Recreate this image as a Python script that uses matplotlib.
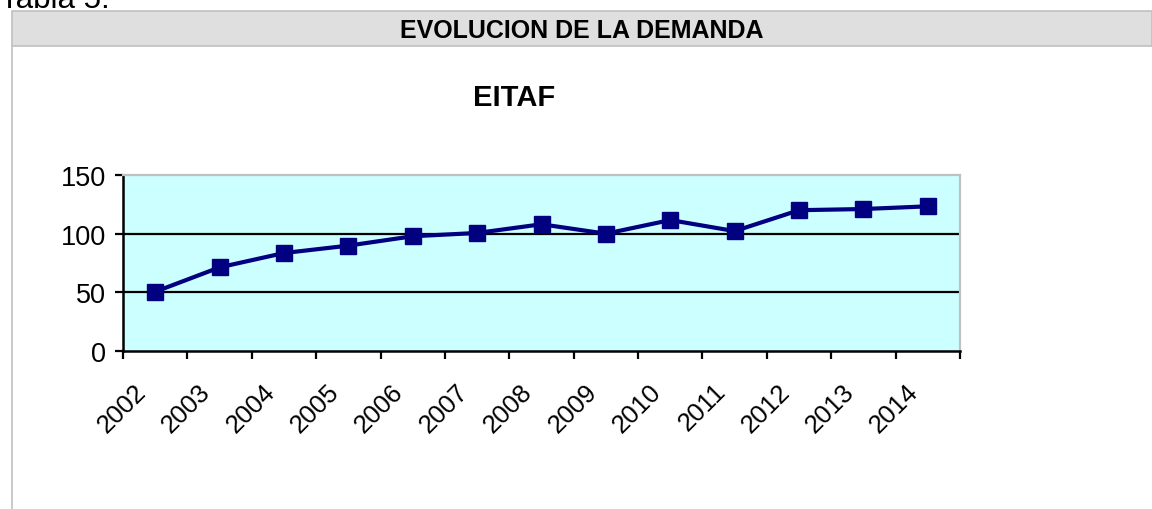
import matplotlib.pyplot as plt
import matplotlib.transforms as mtransforms
from matplotlib.patches import Rectangle
from matplotlib.lines import Line2D

years = ['2002', '2003', '2004', '2005', '2006', '2007', '2008',
         '2009', '2010', '2011', '2012', '2013', '2014']
demand = [50.5, 71.3, 83.5, 89.8, 97.8, 100.6, 108, 100, 111.6, 102.2, 120, 121, 123.3]
yticks = [0, 50, 100, 150]

W, H = 1152, 510
plt.rcParams['font.family'] = ['Liberation Sans', 'DejaVu Sans']
fig = plt.figure(figsize=(W / 100, H / 100), dpi=100)

# page decorations: caption, header band, left frame line
fig.text(0 / W, 1 - 8 / H, 'Tabla 5.', fontsize=22.5, va='baseline', ha='left')
fig.patches.append(Rectangle((12 / W, 1 - 47 / H), 1 - 12 / W, 35 / H,
                             transform=fig.transFigure, facecolor='#dfdfdf',
                             edgecolor='#c0c0c0', linewidth=1.2))
fig.lines.append(Line2D([12 / W, 12 / W], [0, 1 - 47 / H], transform=fig.transFigure,
                        color='#c0c0c0', linewidth=1.2))
fig.text(582 / W, 1 - 31 / H, 'EVOLUCION DE LA DEMANDA', fontsize=18, fontweight='bold',
         ha='center', va='center')
fig.text(514 / W, 1 - 98 / H, 'EITAF', fontsize=21, fontweight='bold',
         ha='center', va='center')

# plot area
ax = fig.add_axes([123 / W, 1 - 352 / H, (960 - 123) / W, (352 - 176) / H])
ax.set_facecolor('#ccffff')
x = list(range(len(years)))
ax.plot(x, demand, color='#000080', linewidth=3, marker='s', markersize=12,
        markerfacecolor='#000080', markeredgecolor='#000080')

ax.set_xlim(-0.5, len(years) - 0.5)
ax.set_ylim(0, 150)
ax.set_yticks(yticks)
ax.set_yticklabels([str(v) for v in yticks], fontsize=19.5)
for v in yticks[1:-1]:
    ax.axhline(v, color='black', linewidth=1.6, zorder=1)

ax.set_xticks([i - 0.5 for i in range(len(years) + 1)])
ax.set_xticklabels([])
ax.set_xticks(x, minor=True)
ax.set_xticklabels(years, minor=True, rotation=45, ha='right', va='center',
                   rotation_mode='anchor', fontsize=18.5)
ax.tick_params(axis='x', which='minor', length=0, pad=26)
ax.tick_params(axis='x', which='major', length=6, width=1.6, direction='out')
ax.tick_params(axis='y', length=6, width=1.6, direction='out', pad=6)
shift = mtransforms.ScaledTranslation(-13 / 100, 0, fig.dpi_scale_trans)
for lbl in ax.get_xticklabels(minor=True):
    lbl.set_transform(lbl.get_transform() + shift)

ax.spines['left'].set_linewidth(1.8)
ax.spines['bottom'].set_linewidth(1.8)
ax.spines['top'].set_color('#c0c0c0')
ax.spines['right'].set_color('#c0c0c0')
ax.spines['top'].set_linewidth(1.6)
ax.spines['right'].set_linewidth(1.6)

fig.savefig('out.png', dpi=100)
